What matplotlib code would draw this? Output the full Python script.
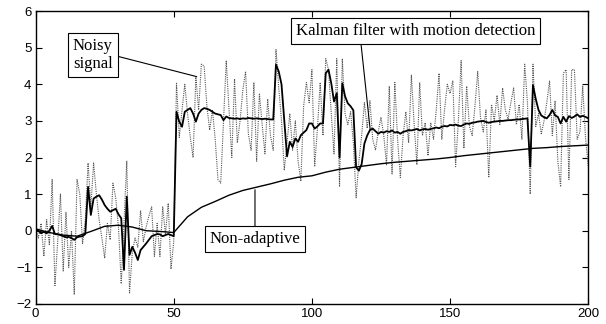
import numpy as np
import matplotlib
matplotlib.use("Agg")
import matplotlib.pyplot as plt

noisy = [
    0.1, -0.2, 0.2, -0.7, 0.3, -0.4, 1.4, -1.5, -0.3, 1.0,
    -1.1, 0.5, -1.0, 0.0, -1.75, 1.4, 1.0, -0.35, 0.3, 1.85,
    0.65, 1.85, 1.0, 0.3, -0.2, -0.75, 0.2, -0.25, 1.3, 0.9,
    0.1, -1.45, 0.2, 1.9, -1.7, -0.6, -0.2, -0.45, 0.55, -0.3,
    0.1, 0.4, 0.65, -0.7, 0.2, -0.7, 0.65, -0.1, 0.75, -1.05,
    -0.3, 4.05, 2.55, 3.3, 4.0, 3.2, 2.55, 2.0, 4.2, 3.3,
    4.55, 4.5, 3.4, 2.75, 3.3, 2.5, 1.4, 1.3, 3.0, 4.65,
    3.3, 2.0, 4.15, 2.4, 3.0, 3.85, 4.35, 2.65, 2.2, 4.05,
    1.9, 3.75, 2.9, 2.1, 3.6, 2.6, 2.2, 4.95, 3.9, 3.0,
    1.65, 2.4, 3.2, 2.2, 3.0, 1.9, 1.35, 3.4, 4.05, 3.5,
    4.4, 1.75, 2.8, 4.05, 2.6, 4.7, 4.4, 3.2, 2.1, 4.7,
    1.2, 4.7, 3.2, 2.9, 3.25, 2.4, 0.9, 1.9, 2.6, 3.5,
    2.8, 3.55, 2.5, 2.2, 2.7, 3.1, 2.6, 1.8, 3.95, 1.55,
    4.05, 2.5, 1.45, 2.6, 3.25, 2.4, 4.25, 2.9, 1.8, 4.05,
    2.6, 2.95, 2.05, 2.95, 2.5, 3.3, 4.3, 2.5, 3.3, 4.0,
    3.75, 4.1, 1.75, 3.0, 4.65, 2.25, 3.95, 2.85, 2.6, 3.4,
    4.35, 3.1, 2.7, 3.3, 1.45, 3.45, 3.0, 3.7, 2.9, 3.9,
    3.3, 3.05, 3.5, 3.9, 2.9, 3.45, 2.5, 4.55, 3.5, 1.0,
    4.55, 2.85, 3.2, 2.65, 3.0, 3.5, 4.1, 2.6, 3.55, 1.9,
    1.2, 4.3, 4.4, 1.4, 4.4, 4.4, 2.5, 2.7, 3.95, 2.55,
    1.75,
]

# Kalman filter with motion detection
kalman = [
    0.06, 0.0, -0.07, -0.03, -0.07, 0.0, 0.13, -0.09, -0.1, -0.12,
    -0.15, -0.18, -0.17, -0.2, -0.25, -0.18, -0.16, -0.15, -0.09, 1.2,
    0.43, 0.88, 0.93, 0.97, 0.85, 0.7, 0.6, 0.52, 0.56, 0.6,
    0.45, 0.34, -1.07, 0.93, -0.66, -0.44, -0.6, -0.8, -0.53, -0.44,
    -0.35, -0.25, -0.15, -0.12, -0.09, -0.1, -0.15, -0.12, -0.09, -0.12,
    -0.15, 3.25, 2.98, 2.84, 3.25, 3.3, 3.35, 3.2, 2.98, 3.2,
    3.3, 3.35, 3.33, 3.3, 3.25, 3.2, 3.18, 3.16, 3.02, 3.12,
    3.08, 3.07, 3.06, 3.07, 3.05, 3.07, 3.06, 3.08, 3.07, 3.06,
    3.07, 3.06, 3.05, 3.06, 3.05, 3.04, 3.04, 4.54, 4.35, 4.0,
    3.0, 2.03, 2.43, 2.29, 2.52, 2.43, 2.61, 2.68, 2.75, 2.93,
    2.93, 2.79, 2.85, 2.93, 2.93, 4.3, 4.4, 4.03, 3.53, 3.76,
    2.0, 4.03, 3.67, 3.48, 3.4, 3.29, 1.73, 1.64, 1.82, 2.38,
    2.6, 2.75, 2.79, 2.72, 2.65, 2.7, 2.68, 2.72, 2.7, 2.74,
    2.68, 2.7, 2.65, 2.7, 2.72, 2.75, 2.74, 2.76, 2.78, 2.74,
    2.77, 2.78, 2.76, 2.78, 2.8, 2.82, 2.8, 2.84, 2.86, 2.85,
    2.89, 2.88, 2.9, 2.87, 2.86, 2.9, 2.93, 2.92, 2.95, 2.96,
    2.98, 2.99, 3.0, 2.97, 2.95, 2.97, 2.98, 2.99, 3.0, 3.0,
    3.01, 3.02, 3.02, 3.03, 3.04, 3.04, 3.05, 3.06, 3.07, 1.75,
    3.98, 3.6, 3.3, 3.15, 3.1, 3.07, 3.16, 3.3, 3.15, 3.11,
    2.93, 3.11, 2.98, 3.13, 3.08, 3.12, 3.18, 3.11, 3.14, 3.11,
    3.07,
]

# non-adaptive estimate, read every 5 steps
na_x = list(range(0, 201, 5))
non_adaptive = [
    0.05, -0.05, -0.12, -0.15, -0.02, 0.12, 0.15, 0.1, 0.0, -0.02,
    -0.05, 0.38, 0.64, 0.8, 0.97, 1.1, 1.19, 1.28, 1.38, 1.46,
    1.5, 1.6, 1.68, 1.73, 1.78, 1.83, 1.87, 1.9, 1.93, 1.96,
    2.0, 2.05, 2.09, 2.13, 2.17, 2.21, 2.25, 2.27, 2.3, 2.32,
    2.34,
]

x = np.arange(len(noisy))

fig = plt.figure(figsize=(6.06, 3.24), dpi=100)
ax = fig.add_axes([0.0587, 0.062, 0.912, 0.9037])

ax.plot(x, noisy, color="#555555", lw=0.8, linestyle=(0, (1, 1)))
ax.plot(na_x, non_adaptive, color="black", lw=1.0)
ax.plot(x, kalman, color="black", lw=1.3)

ax.set_xlim(0, 200)
ax.set_ylim(-2, 6)
ax.set_xticks([0, 50, 100, 150, 200])
ax.set_yticks(range(-2, 7))
ax.tick_params(direction="in", top=True, right=True, length=4,
               labelsize=9.5, pad=3)
for lbl in ax.get_xticklabels() + ax.get_yticklabels():
    lbl.set_family("Liberation Sans")
for s in ax.spines.values():
    s.set_linewidth(1.0)

box = dict(boxstyle="square,pad=0.3", fc="white", ec="black", lw=0.8)
txt = dict(family="Liberation Serif", fontsize=12)

ax.annotate("Noisy\nsignal", xy=(58.3, 4.21), xytext=(13.5, 4.8),
            ha="left", va="center", bbox=box, linespacing=1.15,
            arrowprops=dict(arrowstyle="-", lw=0.8, color="black",
                            relpos=(1, 0.5), shrinkA=0, shrinkB=0),
            **txt)
ax.annotate("Kalman filter with motion detection", xy=(121.1, 2.75),
            xytext=(137.5, 5.46), ha="center", va="center", bbox=box,
            arrowprops=dict(arrowstyle="-", lw=0.8, color="black",
                            relpos=(0.27, 0), shrinkA=0, shrinkB=0),
            **txt)
ax.annotate("Non-adaptive", xy=(79.4, 1.12), xytext=(79.4, -0.24),
            ha="center", va="center", bbox=box,
            arrowprops=dict(arrowstyle="-", lw=0.8, color="black",
                            relpos=(0.5, 1), shrinkA=0, shrinkB=0),
            **txt)

fig.savefig("out.png", dpi=100)
